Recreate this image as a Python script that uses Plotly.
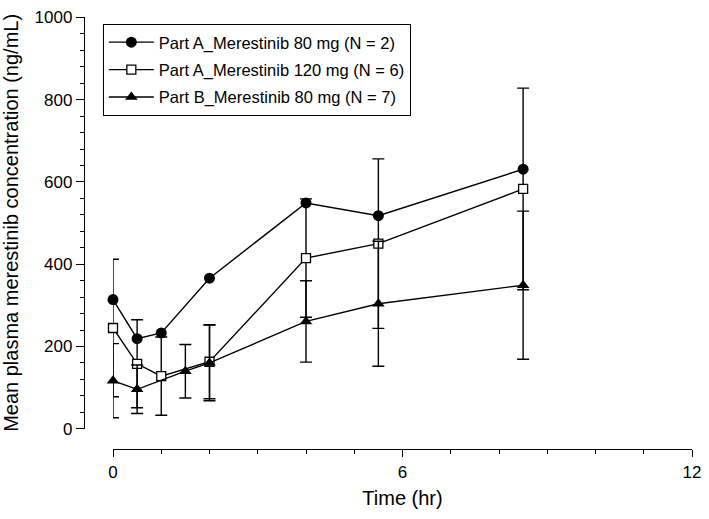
import plotly.graph_objects as go

# Datos
time_a80 = [0, 0.5, 1, 2, 4, 5.5, 8.5]
conc_a80 = [314, 219, 233, 366, 549, 518, 631]

time_a120 = [0, 0.5, 1, 2, 4, 5.5, 8.5]
conc_a120 = [245, 158, 128, 163, 415, 450, 583]
sd_a120 = [167, 107, 95, 90, 144, 206, 245]

time_b80 = [0, 0.5, 1.5, 2, 4, 5.5, 8.5]
conc_b80 = [117, 96, 140, 160, 261, 304, 349]
sd_b80 = [90, 59, 65, 92, 99, 152, 180]

names = [
    "Part A_Merestinib 80 mg (N = 2)",
    "Part A_Merestinib 120 mg (N = 6)",
    "Part B_Merestinib 80 mg (N = 7)",
]
y_ticks = [0, 200, 400, 600, 800, 1000]
x_ticks = [0, 6, 12]

FONT = "Liberation Sans, Arial, sans-serif"
err = dict(type="data", visible=True, color="black", thickness=1.4, width=6)

fig = go.Figure()

fig.add_trace(go.Scatter(
    x=time_a80, y=conc_a80, name=names[0], legendgroup="a80", mode="lines+markers",
    line=dict(color="black", width=1.4),
    marker=dict(symbol="circle", size=11, color="black"),
    cliponaxis=False,
))
fig.add_trace(go.Scatter(
    x=time_a120, y=conc_a120, name=names[1], legendgroup="a120", mode="lines+markers",
    line=dict(color="black", width=1.4),
    marker=dict(symbol="square", size=9, color="white", line=dict(color="black", width=1.3)),
    error_y=dict(array=sd_a120, **err),
    cliponaxis=False,
))
fig.add_trace(go.Scatter(
    x=time_b80, y=conc_b80, name=names[2], legendgroup="b80", mode="lines+markers",
    line=dict(color="black", width=1.4),
    marker=dict(symbol="triangle-up", size=11, color="black"),
    error_y=dict(array=sd_b80, **err),
    cliponaxis=False,
))

fig.update_layout(
    width=709, height=519,
    margin=dict(l=84, r=13, t=8, b=70),
    plot_bgcolor="white", paper_bgcolor="white",
    font=dict(family=FONT, size=17, color="black"),
    legend=dict(
        x=0.031, y=0.984, xanchor="left", yanchor="top",
        bordercolor="black", borderwidth=1, bgcolor="white",
        font=dict(size=16.5), itemwidth=45,
        traceorder="grouped", tracegroupgap=3,
    ),
)

fig.update_xaxes(
    domain=[0.0477, 1], range=[0, 12], anchor="free", position=0,
    showline=True, linecolor="black", linewidth=1.3,
    ticks="outside", tickvals=x_ticks, ticklen=7, tickcolor="black",
    ticklabeloverflow="allow",
    minor=dict(dtick=1, ticklen=4, ticks="outside", tickcolor="black"),
    showgrid=False, zeroline=False,
    title=dict(text="Time (hr)", font=dict(size=20), standoff=10),
)
fig.update_yaxes(
    domain=[0.0468, 1], range=[0, 1001], anchor="free", position=0,
    showline=True, linecolor="black", linewidth=1.3,
    ticks="outside", tickvals=y_ticks, ticklen=8, tickcolor="black",
    ticklabeloverflow="allow",
    minor=dict(dtick=40, ticklen=4, ticks="outside", tickcolor="black"),
    showgrid=False, zeroline=False,
    title=dict(text="Mean plasma merestinib concentration (ng/mL)", font=dict(size=20), standoff=12),
)

# quitar el margen por defecto del body para que la figura empiece en (0, 0)
fig.write_html(
    "out.html",
    config={"displayModeBar": False},
    post_script="document.body.style.margin='0';",
)
